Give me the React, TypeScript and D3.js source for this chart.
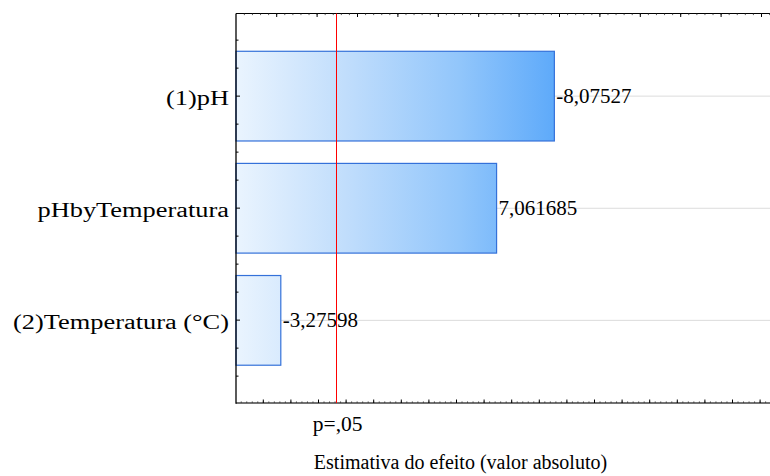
import React from "react";
import * as d3 from "d3";

const categories = ["(1)pH", "pHbyTemperatura", "(2)Temperatura (°C)"];
const effects = [8.07527, 7.061685, 3.27598];
const effectLabels = ["-8,07527", "7,061685", "-3,27598"];
const pCritical = 4.24;
const pLabel = "p=,05";
const xTitle = "Estimativa do efeito (valor absoluto)";

const W = 770;
const H = 476;
const left = 236;
const top = 13.5;
const bottom = 403;
const right = 790;

const FONT = "Liberation Serif, Times New Roman, Times, DejaVu Serif, serif";

export default function App() {
  const x = d3.scaleLinear().domain([2.49, 2.49 + (right - left) / 57]).range([left, right]);
  const y = d3
    .scaleBand<string>()
    .domain(categories)
    .range([top, bottom])
    .paddingInner(0.2)
    .paddingOuter(0.337);

  const ts = { fontFamily: FONT } as React.CSSProperties;

  const topMajor = d3.range(276.7 - 40.4 * 1, right, 40.4).filter((v) => v > left + 1);
  const topMinor = d3.range(276.7 - 40.4, right, 40.4 / 5).filter((v) => v > left + 1);
  const botMajor = d3.range(263.3 - 27.6, right, 27.6).filter((v) => v > left + 1);
  const botMinor = d3.range(263.3 - 27.6, right, 27.6 / 5).filter((v) => v > left + 1);
  const c0 = (y(categories[0]) ?? 0) + y.bandwidth() / 2;
  const leftMajor = d3.range(c0 - 28 * 3, bottom, 28).filter((v) => v > top + 1 && v < bottom - 1);

  return (
    <svg
      width={W}
      height={H}
      style={{ position: "absolute", left: 0, top: 0, background: "#fff", fontFamily: FONT }}
    >
      <defs>
        <linearGradient id="barGrad" gradientUnits="userSpaceOnUse" x1={left} x2={x(effects[0])} y1={0} y2={0}>
          <stop offset="0%" stopColor="#eaf4fe" />
          <stop offset="35%" stopColor="#c0ddfc" />
          <stop offset="70%" stopColor="#92c6fb" />
          <stop offset="100%" stopColor="#5eaafa" />
        </linearGradient>
      </defs>

      {categories.map((c) => {
        const cy = (y(c) ?? 0) + y.bandwidth() / 2;
        return <line key={"g" + c} x1={left} x2={W} y1={cy} y2={cy} stroke="#dcdcdc" strokeWidth={1} />;
      })}

      {categories.map((c, i) => (
        <rect
          key={"b" + c}
          x={left}
          y={y(c)}
          width={x(effects[i]) - left}
          height={y.bandwidth()}
          fill="url(#barGrad)"
          stroke="#3471d9"
          strokeWidth={1.2}
        />
      ))}

      {categories.map((c, i) => (
        <text
          key={"v" + c}
          x={x(effects[i]) + 2}
          y={(y(c) ?? 0) + y.bandwidth() / 2 + 6.5}
          fontSize={21}
          fill="#000"
          style={ts}
        >
          {effectLabels[i]}
        </text>
      ))}

      <line x1={left} x2={W} y1={top} y2={top} stroke="#000" strokeWidth={1} />
      <line x1={left} x2={W} y1={bottom} y2={bottom} stroke="#444" strokeWidth={1.6} />
      <line x1={left} x2={left} y1={top} y2={bottom + 0.8} stroke="#000" strokeWidth={1.3} />

      {topMinor.map((v, i) => (
        <line key={"tm" + i} x1={v} x2={v} y1={top} y2={top + 1.6} stroke="#333" strokeWidth={0.8} />
      ))}
      {topMajor.map((v, i) => (
        <line key={"tM" + i} x1={v} x2={v} y1={top} y2={top + 3.5} stroke="#000" strokeWidth={1} />
      ))}
      {botMinor.map((v, i) => (
        <line key={"bm" + i} x1={v} x2={v} y1={bottom} y2={bottom - 1.6} stroke="#333" strokeWidth={0.8} />
      ))}
      {botMajor.map((v, i) => (
        <line key={"bM" + i} x1={v} x2={v} y1={bottom} y2={bottom - 3.5} stroke="#000" strokeWidth={1} />
      ))}
      {leftMajor.map((v, i) => {
        const isCenter = categories.some((c) => Math.abs((y(c) ?? 0) + y.bandwidth() / 2 - v) < 1);
        return (
          <line
            key={"lt" + i}
            x1={left}
            x2={left + (isCenter ? 4 : 2.5)}
            y1={v}
            y2={v}
            stroke="#000"
            strokeWidth={1}
          />
        );
      })}

      <line
        x1={Math.round(x(pCritical)) + 0.5}
        x2={Math.round(x(pCritical)) + 0.5}
        y1={top}
        y2={bottom}
        stroke="#ff0000"
        strokeWidth={1}
      />

      {categories.map((c) => (
        <text
          key={"c" + c}
          transform={`translate(229, ${(y(c) ?? 0) + y.bandwidth() / 2 + 9}) scale(1.32,1)`}
          textAnchor="end"
          fontSize={20}
          fill="#000"
          style={ts}
        >
          {c}
        </text>
      ))}

      <text x={x(pCritical) - 23} y={431} fontSize={21.5} fill="#000" style={ts}>
        {pLabel}
      </text>
      <text x={460.5} y={469} fontSize={20} textAnchor="middle" fill="#000" style={ts}>
        {xTitle}
      </text>
    </svg>
  );
}
